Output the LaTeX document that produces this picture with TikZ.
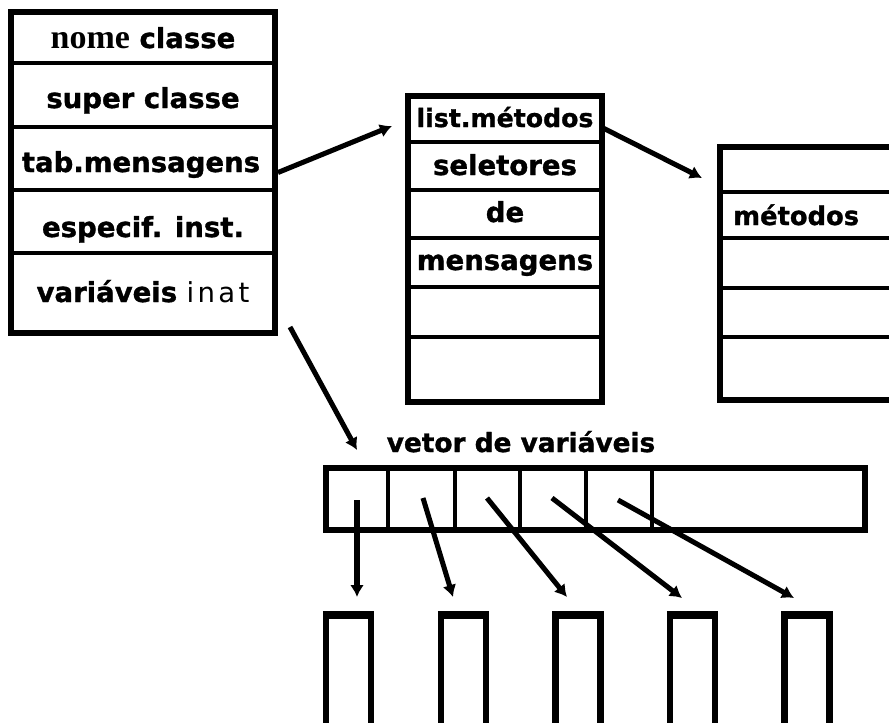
\documentclass[tikz,border=0pt]{standalone}
\usepackage{fontspec}
\setmainfont{DejaVu Sans}[BoldFeatures={FakeBold=1.2}]
\newfontfamily\tmsfont{Liberation Serif}
\usetikzlibrary{arrows.meta}

\newlength\pxl
\setlength\pxl{0.03cm}

\begin{document}
\begin{tikzpicture}[x=0.03cm, y=-0.03cm,
  frame/.style={draw, line width=5.1pt, inner sep=0pt, fill=none},
  divline/.style={line width=3pt},
  link/.style={line width=4.3pt, -{Latex[length=3.6mm,width=4.2mm]}},
  lbl/.style={inner sep=0pt, font=\bfseries\fontsize{23.5}{27}\selectfont},
  cellbox/.style={draw, line width=5.2pt, inner sep=0pt,
    minimum width={45*\pxl}, minimum height={130*\pxl}}]

\useasboundingbox (0,0) rectangle (889,723);
\clip (0,0) rectangle (889,723);

% ---- class record ----
\node[frame, minimum width={264*\pxl}, minimum height={321*\pxl}] (classe) at (143,172.5) {};
\foreach \yy in {63,127,190,253} \draw[divline] (11,\yy) -- (275,\yy);
\node[lbl, anchor=base] (tnome) at (143,48)
  {{\tmsfont\fontsize{29}{30}\selectfont nome} classe};
\node[lbl, anchor=base] (tsuper) at (143,108) {super classe};
\node[lbl, anchor=base] (ttab) at (141,172) {tab.mensagens};
\node[lbl, anchor=base] (tesp) at (143,237) {especif. inst.};
\node[lbl, anchor=base] (tvar) at (143,302)
  {variáveis {\mdseries\addfontfeature{LetterSpace=12}inat}};

% ---- message table ----
\node[frame, minimum width={194*\pxl}, minimum height={306*\pxl}] (tabela) at (505,249) {};
\foreach \yy in {142,190,238,287,337} \draw[divline] (408,\yy) -- (602,\yy);
\node[lbl, anchor=base, font=\bfseries\fontsize{21.5}{26}\selectfont] (tlist) at (505,127) {list.métodos};
\node[lbl, anchor=base] (tsel) at (505,175) {seletores};
\node[lbl, anchor=base] (tde) at (505,222) {de};
\node[lbl, anchor=base] (tmens) at (505,270) {mensagens};

% ---- method table (runs past the right border) ----
\node[frame, minimum width={200*\pxl}, minimum height={253*\pxl}] (metodos) at (820,273.5) {};
\foreach \yy in {192,238,288,337} \draw[divline] (720,\yy) -- (900,\yy);
\node[lbl, anchor=base west, font=\bfseries\fontsize{22}{26}\selectfont] (tmet) at (733,225) {métodos};

% ---- variable vector ----
\node[lbl, anchor=base, font=\bfseries\fontsize{22.5}{26}\selectfont] (tvet) at (521,452) {vetor de variáveis};
\node[frame, line width=5.5pt, minimum width={539*\pxl}, minimum height={62*\pxl}] (vetor) at (595.5,499) {};
\foreach \xx in {388,455,520,586,652} \draw[divline] (\xx,468) -- (\xx,530);

% ---- instance variable cells (heavier top edge) ----
\node[cellbox] (v1) at (348.5,679) {};
\node[cellbox] (v2) at (463.5,679) {};
\node[cellbox] (v3) at (578,679) {};
\node[cellbox] (v4) at (692.5,679) {};
\node[cellbox] (v5) at (807,679) {};
\foreach \i in {1,...,5}
  \draw[line width=6.6pt] ([yshift=-3.3pt]v\i.north west) -- ([yshift=-3.3pt]v\i.north east);

% ---- connector end points ----
\coordinate (listin) at (392,126);
\coordinate (listout) at (603,128);
\coordinate (metin) at (702,178);
\coordinate (varout) at (290,327);
\coordinate (vetin) at (357,450);
\coordinate (s1) at (357,500);
\coordinate (s2) at (423,498);
\coordinate (s3) at (487,498);
\coordinate (s4) at (552,498);
\coordinate (s5) at (618,500);
\coordinate (e1) at (357,597);
\coordinate (e2) at (453,597);
\coordinate (e3) at (567,597);
\coordinate (e4) at (682,598);
\coordinate (e5) at (794,598);

% ---- connectors ----
\draw[link] (classe.east) -- (listin);
\draw[link] (listout) -- (metin);
\draw[link] (varout) -- (vetin);
\foreach \i in {1,...,5} \draw[link] (s\i) -- (e\i);

\end{tikzpicture}
\end{document}
